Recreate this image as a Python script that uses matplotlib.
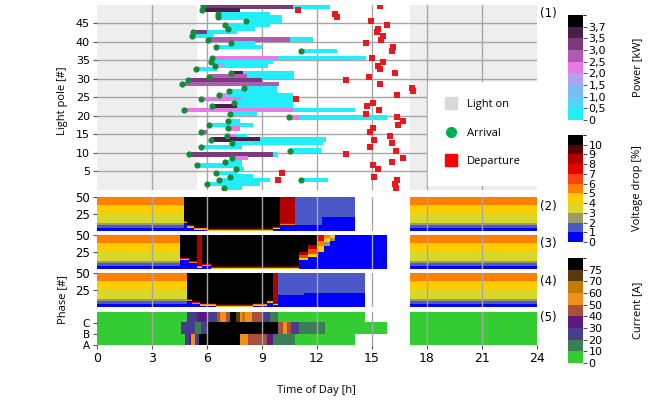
import numpy as np
import matplotlib.pyplot as plt
from matplotlib.colors import ListedColormap, BoundaryNorm
from matplotlib.cm import ScalarMappable
from matplotlib.lines import Line2D

# ---- panel (1): charging sessions per light pole ----
car_pole = [50, 49, 48, 47, 46, 45, 44, 43, 42, 41, 40, 39, 38, 36, 35, 34, 33, 32, 31, 30,
            29, 28, 27, 26, 25, 24, 23, 22, 21, 20, 19, 18, 17, 16, 15, 14, 13, 12, 11, 10,
            9, 8, 7, 6, 5, 4, 3, 3, 2, 1]
car_arrive = [5.80, 5.71, 6.58, 6.62, 8.11, 6.98, 7.13, 5.25, 5.20, 6.07, 7.29, 6.47, 11.13, 6.25, 6.20, 6.45, 5.38, 7.29, 6.13, 4.95,
              4.62, 8.02, 7.22, 6.65, 5.65, 7.47, 6.25, 4.76, 7.25, 10.49, 7.13, 6.13, 7.13, 5.65, 7.07, 6.20, 7.38, 5.67, 10.53, 5.04,
              7.35, 6.98, 5.44, 7.56, 6.47, 7.25, 6.67, 11.13, 6.02, 6.93]
car_switch = [10.71, 7.80, 6.58, 6.62, 8.11, 6.98, 7.13, 5.98, 5.20, 10.53, 7.29, 6.47, 11.13, 9.89, 6.20, 6.90, 5.38, 7.98, 8.16, 8.98,
              9.95, 8.02, 7.22, 7.25, 7.89, 7.47, 7.62, 10.71, 7.25, 11.04, 7.13, 6.13, 7.80, 6.00, 7.58, 8.89, 7.38, 5.67, 10.53, 9.58,
              8.25, 6.98, 5.44, 7.56, 6.47, 7.25, 6.67, 11.13, 6.02, 6.93]
car_end = [12.71, 7.80, 9.44, 10.07, 10.07, 9.44, 8.62, 7.62, 6.30, 11.80, 8.62, 8.98, 13.07, 14.67, 9.62, 9.35, 6.53, 10.75, 10.75, 8.98,
           9.95, 9.80, 9.80, 10.71, 10.71, 10.71, 10.71, 14.07, 8.71, 15.80, 7.80, 8.49, 7.80, 6.00, 8.16, 12.49, 12.35, 7.89, 12.20, 9.89,
           8.25, 7.89, 7.89, 8.00, 7.62, 8.53, 9.44, 12.62, 8.89, 7.89]
car_power = [3.2, 3.6, 0, 0, 0, 0, 0, 3.2, 0, 2.7, 0, 0, 0, 2.2, 0, 1.7, 0, 3.6, 2.7, 3.2,
             2.7, 0, 0, 1.7, 2.2, 0, 3.6, 2.2, 0, 2.2, 0, 0, 2.2, 2.7, 2.2, 3.6, 0, 0, 0, 3.2,
             2.2, 0, 0, 0, 0, 0, 0, 0, 0, 0]
car_leave = [15.44, 10.98, 12.98, 13.11, 14.95, 15.80, 15.35, 15.25, 15.58, 15.47, 14.67, 16.16, 16.07, 15.00, 15.58, 15.35, 15.44, 16.25, 14.85, 13.58,
             15.44, 17.16, 17.25, 16.35, 10.85, 15.07, 14.75, 15.38, 14.67, 16.35, 16.71, 16.44, 15.07, 14.89, 15.98, 15.13, 16.07, 14.89, 16.31, 13.58,
             16.71, 16.07, 15.04, 15.35, 10.07, 15.13, 9.89, 16.38, 16.25, 16.29]
tail_power = 0.3
light_on = [(0, 5.47), (17.07, 24)]

# ---- panels (2)-(4): voltage drop [%] ----
night_edges = [0, 5, 8, 12, 25, 37, 50]
night_drop = [0.5, 1.5, 2.5, 3.5, 4.5, 5.5]
fringe_drop = [9.5, 7.5, 5.5, 3.5]

v2_night_end = 4.75
v2_edge_t = [4.75, 4.9, 5.3, 6.0, 9.6, 10.0, 10.8]
v2_edge_p = [15, 9, 6, 4, 7, 12]
v2_edge_top = [11, 11, 11, 11, 11, 8.5]
v2_after_t = [10.8, 12.3, 14.1]
v2_after_blue = [9, 20]
v2_extra = []

v3_night_end = 4.56
v3_edge_t = [4.56, 5.0, 5.45, 5.75, 6.2, 11.0]
v3_edge_p = [17, 12, 6, 8, 4]
v3_edge_top = [11, 11, 8.5, 11, 11]
v3_after_t = [13.0, 15.8]
v3_after_blue = [50]
v3_extra = [(11.0, 11.5, 25, 50, 11), (11.0, 11.5, 20, 25, 8.5), (11.0, 11.5, 16, 20, 6.5),
            (11.0, 11.5, 13, 16, 4.5), (11.0, 11.5, 0, 13, 0.5),
            (11.5, 12.0, 35, 50, 11), (11.5, 12.0, 28, 35, 8.5), (11.5, 12.0, 22, 28, 6.5),
            (11.5, 12.0, 17, 22, 4.5), (11.5, 12.0, 0, 17, 0.5),
            (12.0, 12.4, 40, 50, 7.5), (12.0, 12.4, 33, 40, 5.5), (12.0, 12.4, 25, 33, 4.5),
            (12.0, 12.4, 0, 25, 0.5),
            (12.4, 12.7, 45, 50, 5.5), (12.4, 12.7, 38, 45, 4.5), (12.4, 12.7, 33, 38, 2.5),
            (12.4, 12.7, 0, 33, 0.5),
            (12.7, 13.0, 45, 50, 4.5), (12.7, 13.0, 40, 45, 2.5), (12.7, 13.0, 0, 40, 0.5)]

v4_night_end = 4.9
v4_edge_t = [4.9, 5.2, 5.6, 6.5, 8.5, 9.3, 9.6, 9.9]
v4_edge_p = [12, 8, 6, 4, 6, 10, 7]
v4_edge_top = [11, 11, 11, 11, 11, 11, 8.5]
v4_after_t = [9.9, 11.3, 14.6]
v4_after_blue = [17, 20]
v4_extra = []

# ---- panel (5): phase current [A] ----
cur_a = [(0, 4.8, 5), (4.8, 4.98, 25), (4.98, 5.16, 35), (5.16, 5.35, 55), (5.35, 5.53, 25),
         (5.53, 7.8, 80), (7.8, 8.26, 55), (8.26, 9.25, 45), (9.25, 9.62, 35), (9.62, 10.8, 15),
         (10.8, 14.07, 5), (17.07, 24, 5)]
cur_b = [(0, 4.62, 5), (4.62, 5.35, 25), (5.35, 5.71, 15), (5.71, 5.98, 25), (5.98, 9.89, 80),
         (9.89, 10.16, 45), (10.16, 10.35, 55), (10.35, 10.62, 45), (10.62, 10.98, 25),
         (10.98, 12.44, 15), (12.44, 15.8, 5), (17.07, 24, 5)]
cur_c = [(0, 4.89, 5), (4.89, 5.44, 25), (5.44, 5.98, 35), (5.98, 6.53, 25), (6.53, 6.71, 45),
         (6.71, 7.07, 55), (7.07, 7.25, 45), (7.25, 7.62, 80), (7.62, 7.8, 72), (7.8, 7.89, 55),
         (7.89, 8.07, 65), (8.07, 8.44, 55), (8.44, 8.98, 45), (8.98, 9.44, 25), (9.44, 9.89, 15),
         (9.89, 14.6, 5), (17.07, 24, 5)]

# ---- colour scales ----
p_bounds = [0, 0.5, 1.0, 1.5, 2.0, 2.5, 3.0, 3.5, 3.7, 4.0]
p_labels = ["0", "0,5", "1,0", "1,5", "2,0", "2,5", "3,0", "3,5", "3,7"]
p_colors = ["#22eefa", "#55d3f6", "#7bbdf2", "#aba6ee", "#e87ae6", "#b05ab0", "#7c3a7c", "#4a1e48", "#000000"]
v_bounds = [0, 1, 2, 3, 4, 5, 6, 7, 8, 9, 10, 12]
v_labels = ["0", "1", "2", "3", "4", "5", "6", "7", "8", "9", "10"]
v_colors = ["#0000ff", "#4a58c8", "#9a9870", "#d8d82a", "#ffcc00", "#ff8000", "#ff4010",
            "#e60000", "#b00000", "#5a0000", "#000000"]
c_bounds = [0, 10, 20, 30, 40, 50, 60, 70, 75, 85]
c_labels = ["0", "10", "20", "30", "40", "50", "60", "70", "75"]
c_colors = ["#33cc33", "#3b7d55", "#483d8b", "#5c1a7e", "#a8503c", "#f0901c", "#c47a00", "#5a3a10", "#000000"]

p_cmap, p_norm = ListedColormap(p_colors), BoundaryNorm(p_bounds, len(p_colors))
v_cmap, v_norm = ListedColormap(v_colors), BoundaryNorm(v_bounds, len(v_colors))
c_cmap, c_norm = ListedColormap(c_colors), BoundaryNorm(c_bounds, len(c_colors))
v_cmap.set_bad("white")
c_cmap.set_bad("white")

dt = 0.05
n_t = int(round(24 / dt))


def paint(n_rows, blocks):
    grid = np.full((n_rows, n_t), np.nan)
    for t0, t1, r0, r1, v in blocks:
        grid[r0:r1, int(round(t0 / dt)):int(round(t1 / dt))] = v
    return np.ma.masked_invalid(grid)


def voltage_blocks(night_end, edge_t, edge_p, edge_top, after_t, after_blue, extra):
    blocks = []
    for t0, t1 in [(0, night_end), (17.07, 24)]:
        for lo, hi, v in zip(night_edges[:-1], night_edges[1:], night_drop):
            blocks.append((t0, t1, lo, hi, v))
    for t0, t1, p, top in zip(edge_t[:-1], edge_t[1:], edge_p, edge_top):
        blocks.append((t0, t1, p, 50, top))
        for k, v in enumerate(fringe_drop):
            blocks.append((t0, t1, p - k - 1, p - k, v))
        blocks.append((t0, t1, 0, p - len(fringe_drop), 0.5))
    for t0, t1, p in zip(after_t[:-1], after_t[1:], after_blue):
        blocks.append((t0, t1, p, 50, 1.5))
        blocks.append((t0, t1, 0, p, 0.5))
    return blocks + extra


plt.rcParams["font.family"] = "DejaVu Sans"
label_font = "Open Sans"
grid_col = "#a6a6a6"

fig = plt.figure(figsize=(6.48, 4.01), dpi=100)
left, width = 0.1497, 0.679

# panel 1
ax1 = fig.add_axes([left, 0.5274, width, 0.4613])
for t0, t1 in light_on:
    ax1.axvspan(t0, t1, color="#eeeeee", zorder=0, lw=0)
for y in range(5, 50, 5):
    ax1.axhline(y, color=grid_col, lw=1, zorder=1)
for x in range(3, 24, 3):
    ax1.axvline(x, color=grid_col, lw=1, zorder=1)
for i in range(len(car_pole)):
    y = car_pole[i] - 0.5
    if car_switch[i] > car_arrive[i]:
        ax1.barh(y, car_switch[i] - car_arrive[i], left=car_arrive[i], height=1.2,
                 color=p_cmap(p_norm(car_power[i])), zorder=2)
    if car_end[i] > car_switch[i]:
        ax1.barh(y, car_end[i] - car_switch[i], left=car_switch[i], height=1.2,
                 color=p_cmap(p_norm(tail_power)), zorder=2)
ax1.scatter(car_arrive, np.array(car_pole) - 0.5, s=20, color="#178a3a", zorder=4, lw=0)
ax1.scatter(car_leave, np.array(car_pole) - 0.5, s=16, marker="s", color="#e8191c", zorder=4, lw=0)
ax1.set_xlim(0, 24)
ax1.set_ylim(0, 50)
ax1.set_yticks(range(5, 50, 5))
ax1.set_xticks([])
ax1.tick_params(axis="y", labelsize=8, length=3, color="#555555", pad=2)
handles = [Line2D([], [], ls="", marker="s", ms=9, color="#d9d9d9"),
           Line2D([], [], ls="", marker="o", ms=7, color="#00b050"),
           Line2D([], [], ls="", marker="s", ms=9, color="#ff0000")]
leg = ax1.legend(handles, ["Light on", "Arrival", "Departure"], loc="upper left",
                 bbox_to_anchor=(0.74, 0.6135), frameon=True, fancybox=False,
                 framealpha=1, edgecolor="white", facecolor="white",
                 prop={"family": label_font, "size": 8}, labelspacing=1.55,
                 borderpad=1.6, handlelength=1.0, handletextpad=0.9)
leg.set_zorder(10)

# panels 2-4
volt = [
    voltage_blocks(v2_night_end, v2_edge_t, v2_edge_p, v2_edge_top, v2_after_t, v2_after_blue, v2_extra),
    voltage_blocks(v3_night_end, v3_edge_t, v3_edge_p, v3_edge_top, v3_after_t, v3_after_blue, v3_extra),
    voltage_blocks(v4_night_end, v4_edge_t, v4_edge_p, v4_edge_top, v4_after_t, v4_after_blue, v4_extra),
]
bottoms = [0.4239, 0.3292, 0.2344]
vaxes = []
for blocks, b in zip(volt, bottoms):
    ax = fig.add_axes([left, b, width, 0.0848])
    ax.imshow(paint(50, blocks), cmap=v_cmap, norm=v_norm, extent=[0, 24, 0, 50],
              origin="lower", aspect="auto", interpolation="nearest")
    ax.set_ylim(0, 50)
    ax.set_yticks([25, 50])
    ax.set_xticks([])
    ax.tick_params(axis="y", labelsize=8.5, length=3, color="#555555", pad=2)
    vaxes.append(ax)

# panel 5
ax5 = fig.add_axes([left, 0.1397, width, 0.0823])
cur_grid = paint(3, [(t0, t1, 0, 1, a) for t0, t1, a in cur_a] +
                 [(t0, t1, 1, 2, a) for t0, t1, a in cur_b] +
                 [(t0, t1, 2, 3, a) for t0, t1, a in cur_c])
ax5.imshow(cur_grid, cmap=c_cmap, norm=c_norm, extent=[0, 24, 0, 3],
           origin="lower", aspect="auto", interpolation="nearest")
ax5.set_ylim(0, 3)
ax5.set_yticks([0, 1, 2])
ax5.set_yticklabels(["A", "B", "C"])
ax5.set_xticks(range(0, 25, 3))
ax5.tick_params(axis="y", labelsize=7.5, length=3, color="#555555", pad=2)
ax5.tick_params(axis="x", labelsize=9, length=3, color="#555555", pad=2)

for ax in [ax1] + vaxes + [ax5]:
    ax.set_xlim(0, 24)
    for s in ax.spines.values():
        s.set_visible(False)
for ax in vaxes + [ax5]:
    for x in range(3, 24, 3):
        ax.axvline(x, color=grid_col, lw=1, zorder=3)

# colorbars
cbar_specs = [
    ([0.8765, 0.7007, 0.0231, 0.2618], p_cmap, p_norm, p_bounds[:-1], p_labels, "Power [kW]"),
    ([0.8765, 0.3965, 0.0231, 0.2668], v_cmap, v_norm, v_bounds[:-1], v_labels, "Voltage drop [%]"),
    ([0.8765, 0.0948, 0.0231, 0.2618], c_cmap, c_norm, c_bounds[:-1], c_labels, "Current [A]"),
]
for rect, cmap, norm, ticks, labels, title in cbar_specs:
    cax = fig.add_axes(rect)
    cb = fig.colorbar(ScalarMappable(norm=norm, cmap=cmap), cax=cax, ticks=ticks)
    cb.set_ticklabels(labels)
    cb.outline.set_visible(False)
    cax.tick_params(labelsize=8, length=3, color="#555555", pad=1)
    fig.text(0.984, rect[1] + rect[3] / 2, title, rotation=90, ha="center", va="center",
             family=label_font, fontsize=8)

# labels
fig.text(0.096, 0.75, "Light pole [#]", rotation=90, ha="center", va="center", family=label_font, fontsize=8)
fig.text(0.096, 0.252, "Phase [#]", rotation=90, ha="center", va="center", family=label_font, fontsize=8)
fig.text(0.489, 0.027, "Time of Day [h]", ha="center", va="center", family=label_font, fontsize=8)
for txt, y in [("(1)", 0.967), ("(2)", 0.486), ("(3)", 0.394), ("(4)", 0.297), ("(5)", 0.207)]:
    fig.text(0.833, y, txt, ha="left", va="center", fontsize=8.5)

plt.savefig("out.png", dpi=100)
